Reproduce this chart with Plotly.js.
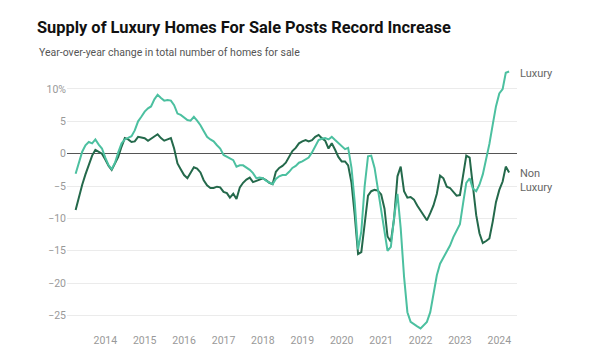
<!DOCTYPE html>
<html>
<head>
<meta charset="utf-8">
<script src="https://cdn.plot.ly/plotly-3.0.1.min.js"></script>
<style>html,body{margin:0;padding:0;background:#fff;}#chart{width:600px;height:356px;}</style>
</head>
<body>
<div id="chart"></div>
<script>
// Monthly dates, Apr 2013 - Apr 2024
const months = [];
for (let y = 2013; y <= 2024; y++) {
  for (let m = 1; m <= 12; m++) {
    if ((y === 2013 && m < 4) || (y === 2024 && m > 4)) continue;
    months.push(y + '-' + String(m).padStart(2, '0') + '-01');
  }
}

const luxury = [
  -3.1, -1.3, 0.3, 1.3, 1.8, 1.6, 2.2, 1.4, 0.8,
  -0.6, -1.8, -2.4, -1.4, 0.2, 1.6, 2.2, 2.5, 2.7, 3.6, 5.0, 5.7,
  6.5, 7.0, 7.3, 8.4, 9.1, 8.6, 8.2, 8.3, 8.2, 7.5, 6.2, 6.0,
  5.6, 5.2, 5.1, 5.7, 5.1, 4.4, 3.5, 2.6, 2.2, 1.9, 1.3, 0.8,
  -0.2, -0.5, -0.7, -1.0, -2.0, -1.8, -1.8, -2.1, -2.5, -3.0, -3.8, -3.7,
  -3.8, -4.2, -4.4, -4.7, -3.9, -3.5, -3.3, -3.3, -2.8, -2.2, -1.9, -1.4,
  -1.2, -0.9, -0.6, 0.2, 1.2, 2.1, 2.3, 2.4, 2.2, 2.6, 2.1, 1.6,
  1.2, 0.7, 0.9, -2.2, -7.5, -14.8, -12.0, -5.0, -0.4, -0.3, -2.2, -5.3,
  -8.5, -11.7, -15.0, -14.4, -9.8, -6.2, -11.5, -19.0, -24.5, -26.0, -26.4, -26.7,
  -27.0, -26.5, -26.0, -24.5, -21.6, -18.8, -17.0, -16.1, -15.1, -14.2, -12.9, -11.9,
  -10.9, -7.5, -4.5, -3.8, -5.4, -5.8, -4.8, -3.2, -1.0, 1.5, 4.5, 7.3,
  9.3, 10.0, 12.5, 12.7
];

const nonLuxury = [
  -8.7, -6.6, -4.8, -3.2, -1.8, -0.3, 0.6, 0.3, 0.0,
  -0.9, -1.9, -2.5, -1.6, -0.5, 1.1, 2.4, 2.2, 1.8, 1.9, 2.6, 2.5,
  2.4, 2.0, 2.3, 2.6, 3.0, 2.4, 2.0, 2.2, 2.4, 0.8, -1.5, -2.4,
  -3.3, -3.8, -2.9, -2.1, -2.3, -2.9, -4.1, -4.9, -5.3, -5.3, -5.1, -5.2,
  -5.9, -6.1, -6.8, -6.2, -7.0, -5.2, -4.5, -4.0, -3.7, -4.4, -4.2, -4.0,
  -3.8, -4.1, -4.5, -4.7, -2.8, -2.2, -1.9, -1.4, -0.4, 0.4, 0.9, 1.6,
  1.9, 2.1, 1.9, 2.1, 2.6, 2.9, 2.4, 2.0, 0.8, 1.6, 0.6, -0.5,
  -1.2, -1.2, -1.8, -4.5, -9.5, -15.5, -15.2, -10.5, -6.5, -5.8, -5.6, -5.7,
  -6.3, -8.5, -12.8, -13.6, -10.0, -3.5, -2.0, -5.8, -6.8, -6.7, -7.1, -8.0,
  -8.8, -9.7, -10.3, -9.2, -8.0, -6.2, -3.4, -3.8, -5.1, -5.3, -6.0, -6.5,
  -6.4, -3.2, -0.3, -0.6, -5.0, -9.5, -12.3, -13.8, -13.5, -13.1, -10.5, -7.5,
  -5.6, -4.3, -2.0, -2.9
];

const yTickVals = [-25, -20, -15, -10, -5, 0, 5, 10];
const yTickText = ['\u221225', '\u221220', '\u221215', '\u221210', '\u22125', '0', '5', '10%'];

const titleText = 'Supply of Luxury Homes For Sale Posts Record Increase';
const subtitleText = 'Year-over-year change in total number of homes for sale';
const seriesNames = ['Luxury', 'Non<br>Luxury'];

const traces = [
  {x: months, y: nonLuxury, type: 'scatter', mode: 'lines', name: 'Non Luxury',
   line: {color: '#24694b', width: 2}},
  {x: months, y: luxury, type: 'scatter', mode: 'lines', name: 'Luxury',
   line: {color: '#4cc0a0', width: 2}}
];

const layout = {
  width: 600, height: 356,
  margin: {l: 67, r: 83, t: 66, b: 24},
  paper_bgcolor: '#fff', plot_bgcolor: '#fff',
  showlegend: false,
  font: {family: 'Roboto, sans-serif', color: '#999'},
  title: {text: titleText, xref: 'container', yref: 'container', x: 37/600, xanchor: 'left',
          y: 1 - 27/356, yanchor: 'middle', font: {family: 'Roboto, sans-serif', size: 16.4, color: '#111', weight: 700}},
  xaxis: {type: 'date', range: ['2013-01-11', '2024-06-13'], tick0: '2014-01-01', dtick: 'M12',
          tickformat: '%Y', showgrid: false, zeroline: false, showline: false, ticks: '',
          tickfont: {size: 10.5, color: '#999'}},
  yaxis: {range: [-27.56, 13.55], tickvals: yTickVals, ticktext: yTickText, showgrid: true,
          gridcolor: '#ebebeb', gridwidth: 1, zeroline: true, zerolinecolor: '#555', zerolinewidth: 1.5,
          showline: false, ticks: '', ticklen: 0, tickfont: {size: 10.5, color: '#999'}},
  annotations: [
    {text: subtitleText, xref: 'paper', yref: 'paper', x: (37 - 67) / 450, y: (332 - 53) / 266,
     xanchor: 'left', yanchor: 'middle', showarrow: false, font: {size: 10.5, color: '#555'}},
    {text: seriesNames[0], xref: 'paper', yref: 'y', x: 1, y: luxury[luxury.length - 1] - 0.3,
     xanchor: 'left', yanchor: 'middle', xshift: 1, showarrow: false, align: 'left',
     font: {size: 11, color: '#666'}},
    {text: seriesNames[1], xref: 'paper', yref: 'y', x: 1, y: -4.1,
     xanchor: 'left', yanchor: 'middle', xshift: 1, showarrow: false, align: 'left',
     font: {size: 11, color: '#666'}}
  ]
};

Plotly.newPlot('chart', traces, layout, {displayModeBar: false, staticPlot: true});
</script>
</body>
</html>
